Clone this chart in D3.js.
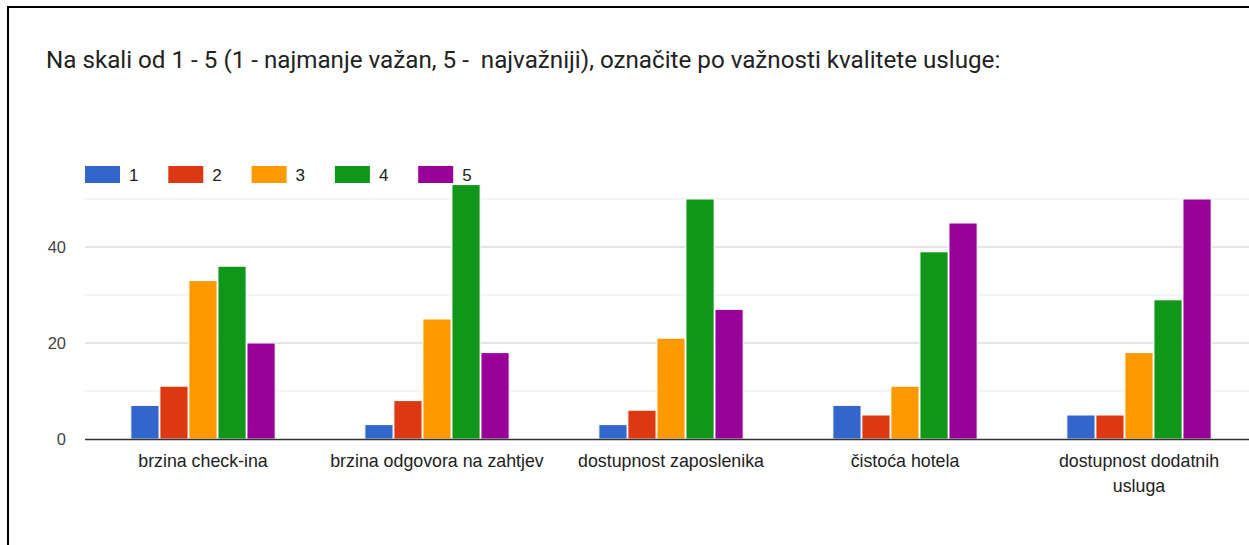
<!DOCTYPE html>
<html><head><meta charset="utf-8">
<script src="https://cdn.jsdelivr.net/npm/d3@7"></script>
<style>
html,body{margin:0;padding:0;background:#fff;}
svg{display:block;font-family:"Liberation Sans", Arial, sans-serif;}
</style></head>
<body>
<script>
const title = "Na skali od 1 - 5 (1 - najmanje važan, 5 -  najvažniji), označite po važnosti kvalitete usluge:";
const categories = [["brzina check-ina"],["brzina odgovora na zahtjev"],["dostupnost zaposlenika"],["čistoća hotela"],["dostupnost dodatnih","usluga"]];
const seriesNames = ["1","2","3","4","5"];
const s1 = [7, 3, 3, 7, 5];
const s2 = [11, 8, 6, 5, 5];
const s3 = [33, 25, 21, 11, 18];
const s4 = [36, 53, 50, 39, 29];
const s5 = [20, 18, 27, 45, 50];
const seriesValues = [s1, s2, s3, s4, s5];
const colors = ["#3366cc","#dc3912","#ff9900","#109618","#990099"];
const majorTicks = [0, 20, 40];
const minorTicks = [10, 30, 50];

const W = 1249, H = 545;
const svg = d3.select("body").append("svg").attr("width", W).attr("height", H);

svg.append("rect").attr("x", 8).attr("y", 7).attr("width", 1400).attr("height", 700)
  .attr("fill", "#fff").attr("stroke", "#000").attr("stroke-width", 2);

svg.append("text").attr("x", 46).attr("y", 68).attr("font-size", 24.2).attr("fill", "#222")
  .attr("font-family", "Roboto, sans-serif").style("white-space", "pre")
  .text(title);

const plotL = 86, plotR = 1256, y0 = 439;
const x = d3.scaleBand().domain(categories.map((c, i) => i)).range([plotL, plotR]).paddingInner(0).paddingOuter(0);
const y = d3.scaleLinear().domain([0, 50]).range([y0, y0 - 50 * 4.8]);
const xs = d3.scaleBand().domain(seriesNames).range([44, 190]).padding(0.03);

// grid
svg.append("g").selectAll("line").data(minorTicks).join("line")
  .attr("x1", plotL - 1).attr("x2", W).attr("y1", d => y(d)).attr("y2", d => y(d))
  .attr("stroke", "#ebebeb").attr("stroke-width", 1);
svg.append("g").selectAll("line").data(majorTicks.filter(d => d > 0)).join("line")
  .attr("x1", plotL - 1).attr("x2", W).attr("y1", d => y(d)).attr("y2", d => y(d))
  .attr("stroke", "#cccccc").attr("stroke-width", 1);

// y tick labels
svg.append("g").selectAll("text").data(majorTicks).join("text")
  .attr("x", 66).attr("y", d => y(d) + 6).attr("text-anchor", "end")
  .attr("font-size", 16.5).attr("fill", "#444").text(d => d);

// bars
const groups = svg.append("g").selectAll("g").data(categories).join("g")
  .attr("transform", (d, i) => `translate(${x(i)},0)`);
groups.selectAll("rect").data((d, i) => seriesNames.map((s, j) => ({s, j, v: seriesValues[j][i]})))
  .join("rect")
  .attr("x", d => xs(d.s)).attr("width", xs.bandwidth())
  .attr("y", d => y(d.v)).attr("height", d => y0 - y(d.v))
  .attr("fill", d => colors[d.j]).attr("stroke", "#fff").attr("stroke-width", 1);

// baseline
svg.append("line").attr("x1", plotL - 1).attr("x2", W).attr("y1", y0 + 0.5).attr("y2", y0 + 0.5)
  .attr("stroke", "#333").attr("stroke-width", 1.5);

// category labels
groups.each(function(d, i) {
  const g = d3.select(this);
  d.forEach((line, k) => {
    g.append("text").attr("x", x.bandwidth() / 2).attr("y", 467 + k * 24.5)
      .attr("text-anchor", "middle").attr("font-size", 17.8).attr("fill", "#222").text(line);
  });
});

// legend
const leg = svg.append("g").selectAll("g").data(seriesNames).join("g")
  .attr("transform", (d, i) => `translate(${85 + i * 83.3},166)`);
leg.append("rect").attr("width", 35).attr("height", 17).attr("fill", (d, i) => colors[i]);
leg.append("text").attr("x", 44).attr("y", 14.5).attr("font-size", 17).attr("fill", "#222").text(d => d);
</script>
</body></html>
